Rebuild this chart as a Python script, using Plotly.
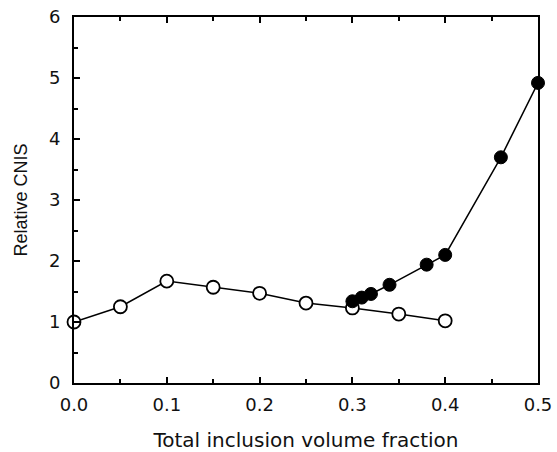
import plotly.graph_objects as go

open_x = [0.0, 0.05, 0.1, 0.15, 0.2, 0.25, 0.3, 0.35, 0.4]
open_y = [1.0, 1.25, 1.67, 1.57, 1.47, 1.31, 1.23, 1.13, 1.02]

filled_x = [0.30, 0.31, 0.32, 0.34, 0.38, 0.40, 0.46, 0.50]
filled_y = [1.34, 1.40, 1.46, 1.61, 1.94, 2.10, 3.70, 4.92]

x_ticks = [0.0, 0.1, 0.2, 0.3, 0.4, 0.5]
x_tick_labels = ["0.0", "0.1", "0.2", "0.3", "0.4", "0.5"]
y_ticks = [0, 1, 2, 3, 4, 5, 6]

wide = "DejaVu Sans, Verdana, sans-serif"
narrow = "Liberation Sans, Arial, sans-serif"

fig = go.Figure()
fig.add_trace(go.Scatter(
    x=open_x, y=open_y, mode="lines+markers",
    line=dict(color="black", width=1.5),
    marker=dict(symbol="circle", size=13, color="white", line=dict(color="black", width=1.8)),
    cliponaxis=False, showlegend=False))
fig.add_trace(go.Scatter(
    x=filled_x, y=filled_y, mode="lines+markers",
    line=dict(color="black", width=1.5),
    marker=dict(symbol="circle", size=13, color="black", line=dict(color="black", width=1)),
    cliponaxis=False, showlegend=False))

fig.update_layout(
    width=557, height=452,
    margin=dict(l=74, r=19, t=17, b=69, autoexpand=False),
    paper_bgcolor="white", plot_bgcolor="white",
    font=dict(family=wide, size=18, color="black"),
    xaxis=dict(
        range=[0, 0.5], tickvals=x_ticks, ticktext=x_tick_labels,
        tickfont=dict(family=wide, size=18, color="#111"),
        ticks="inside", ticklen=6, tickwidth=1.5, tickcolor="black",
        ticklabelstandoff=4, automargin=False,
        minor=dict(ticks="inside", dtick=0.05, ticklen=4, tickcolor="black"),
        showline=True, linecolor="black", linewidth=2, mirror="ticks",
        showgrid=False, zeroline=False,
        title=dict(text="Total inclusion volume fraction",
                   font=dict(family=wide, size=20, color="#111"), standoff=25),
    ),
    yaxis=dict(
        range=[0, 6], tickvals=y_ticks,
        tickfont=dict(family=wide, size=18, color="#111"),
        ticks="inside", ticklen=6, tickwidth=1.5, tickcolor="black",
        ticklabelstandoff=8, automargin=False,
        minor=dict(ticks="inside", dtick=0.5, ticklen=4, tickcolor="black"),
        showline=True, linecolor="black", linewidth=2, mirror=True,
        showgrid=False, zeroline=False,
        title=dict(text="Relative CNIS",
                   font=dict(family=narrow, size=18, color="#111"), standoff=17),
    ),
)

fig.write_html("out.html")
